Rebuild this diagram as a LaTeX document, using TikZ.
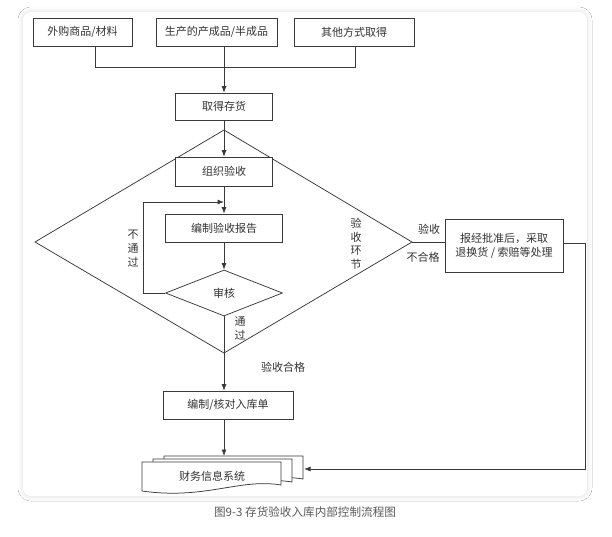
\documentclass[tikz,border=0pt]{standalone}
\usepackage{fontspec}
\setmainfont{Liberation Serif}
\newfontfamily\cjk{Noto Sans CJK SC}
\usetikzlibrary{arrows.meta,shapes.geometric,shadows.blur}
\definecolor{lnc}{HTML}{3A3A3A}
\definecolor{txt}{HTML}{333333}
\definecolor{capc}{HTML}{5A5A5A}
\begin{document}
\begin{tikzpicture}[x=1pt,y=-1pt,
  ln/.style={draw=lnc, line width=0.75pt},
  arr/.style={ln, -{Latex[length=6.5pt,width=5pt]}},
  box/.style={ln, fill=white, inner sep=0pt, text=txt, font=\cjk\fontsize{11}{14}\selectfont, align=center},
  lbl/.style={inner sep=0pt, text=txt, font=\cjk\fontsize{11}{14}\selectfont, align=center},
  doc/.style={ln, fill=white}
]
\useasboundingbox (0,0) rectangle (612,536);
\fill[white] (0,0) rectangle (612,536);
\path[fill=white, rounded corners=8pt, blur shadow={shadow xshift=0pt, shadow yshift=0pt, shadow blur radius=5pt, shadow opacity=15}] (23,12) rectangle (587,496);

% top row
\node[box, minimum width=99pt, minimum height=28pt] (b1) at (82.5,32) {外购商品/材料};
\node[box, minimum width=121pt, minimum height=28pt] (b2) at (216.5,32) {生产的产成品/半成品};
\node[box, minimum width=120pt, minimum height=28pt] (b3) at (354,32) {其他方式取得};
\coordinate (j1) at (95,67);
\coordinate (j2) at (224,67);
\coordinate (j3) at (355,67);
\draw[ln] (j1 |- b1.south) -- (j1) -- (j3) -- (j3 |- b3.south);

\node[box, minimum width=97pt, minimum height=27pt] (get) at (224,106.5) {取得存货};
\draw[arr] (j2 |- b2.south) -- (get.north);

% big diamond
\coordinate (dT) at (224,130);
\coordinate (dR) at (412,242);
\coordinate (dB) at (224,353);
\coordinate (dL) at (35,242);
\draw[ln] (dT) -- (dR) -- (dB) -- (dL) -- cycle;

\node[box, minimum width=97pt, minimum height=29pt] (org) at (224,171.5) {组织验收};
\draw[arr] (get.south) -- (org.north);
\node[box, minimum width=117pt, minimum height=28pt] (rep) at (224,228) {编制验收报告};
\draw[arr] (org.south) -- (rep.north);
\node[box, diamond, minimum width=117pt, minimum height=46pt] (aud) at (224,293) {审核};
\draw[arr] (rep.south) -- (aud.north);

\coordinate (lp1) at (143,202);
\coordinate (lp2) at (224,202);
\draw[arr] (aud.west) -- (aud.west -| lp1) -- (lp1) -- (lp2);
\node[lbl] (ntg) at (133,249) {不\\通\\过};

\node[box, minimum width=130pt, minimum height=28pt] (inv) at (228,405) {编制/核对入库单};
\draw[arr] (aud.south) -- (aud.south |- inv.north);
\node[lbl] (tg) at (240,328) {通\\过};
\node[lbl] (ok) at (283,367) {验收合格};
\node[lbl, font=\cjk\fontsize{11}{13.5}\selectfont] (hj) at (356,244) {验\\收\\环\\节};

% right branch
\node[box, minimum width=118pt, minimum height=53pt] (ret) at (504,246) {报经批准后，采取\\退换货 / 索赔等处理};
\draw[ln] (dR) -- (dR -| ret.west);
\node[lbl] (ys) at (429,229) {验收};
\node[lbl] (bhg) at (423,257) {不合格};

% documents
\foreach \dx/\dy in {22/-6, 11/-3, 0/0} {
  \draw[doc, shift={(\dx,\dy)}] (142,462) -- (281,462) -- (281,485) .. controls (240,478) and (205,500) .. (142,491) -- cycle;
}
\node[lbl] (fin) at (212,476) {财务信息系统};
\coordinate (docT) at (224,456);
\draw[arr] (docT |- inv.south) -- (docT);

\coordinate (rc1) at (585,243);
\coordinate (rc2) at (585,469);
\coordinate (docin) at (304,469);
\draw[arr] (rc1 -| ret.east) -- (rc1) -- (rc2) -- (docin);

% caption
\node[inner sep=0pt, text=capc, font=\cjk\fontsize{11.6}{13}\selectfont] (cap) at (305,512) {图9-3 存货验收入库内部控制流程图};
\end{tikzpicture}
\end{document}
